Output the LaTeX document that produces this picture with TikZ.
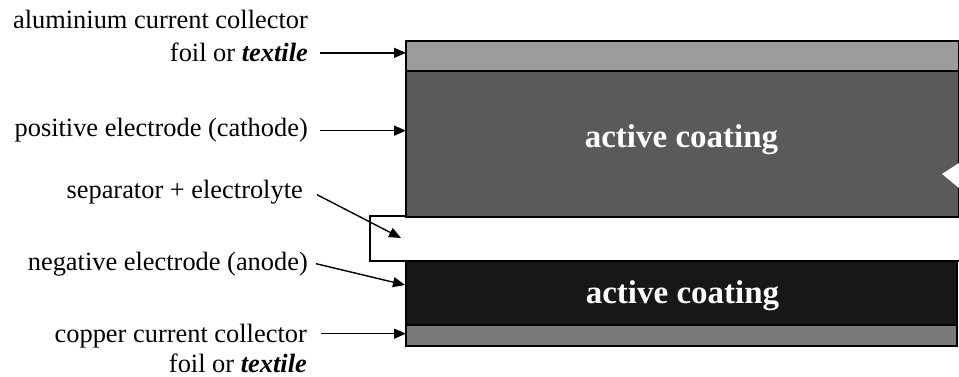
\documentclass[tikz,border=0pt]{standalone}
\usepackage{fontspec}
\setmainfont{Liberation Serif}
\usetikzlibrary{arrows.meta}
\definecolor{foilgrey}{HTML}{9C9C9C}
\definecolor{cathgrey}{HTML}{5A5A5A}
\definecolor{anodeblk}{HTML}{171717}
\definecolor{cugrey}{HTML}{7A7A7A}
\begin{document}
\begin{tikzpicture}[x=1pt,y=-1pt,
  layer/.style={draw=black,line width=1.2pt,inner sep=0pt,outer sep=0pt,anchor=north west},
  lbl/.style={inner sep=0pt,anchor=base east,font=\fontsize{26.4pt}{30pt}\selectfont},
  coat/.style={inner sep=0pt,anchor=base,text=white,font=\fontsize{33pt}{36pt}\selectfont\bfseries},
  arr/.style={line width=1.4pt,-{Triangle[length=12pt,width=10pt]}}]
\useasboundingbox (0,0) rectangle (959,377);
% layers
\node[layer,fill=white,minimum width=590pt,minimum height=45pt] (sep) at (370,216) {};
\node[layer,fill=foilgrey,minimum width=553pt,minimum height=30pt] (alfoil) at (406,41) {};
\node[layer,fill=cathgrey,minimum width=553pt,minimum height=146pt] (cath) at (406,71) {};
\node[layer,fill=anodeblk,minimum width=551pt,minimum height=64pt] (anode) at (406,261) {};
\node[layer,fill=cugrey,minimum width=551pt,minimum height=21pt] (cu) at (406,325) {};
\fill[white] (942,174) -- (959,163) -- (959,188) -- cycle;
% coating texts
\node[coat] (coat1) at (681.5,148) {active coating};
\node[coat] (coat2) at (682.5,303) {active coating};
% labels
\node[lbl] (al1) at (308,29) {aluminium current collector};
\node[lbl] (al2) at (308,62) {foil or \textit{\textbf{textile}}};
\node[lbl] (pos) at (308,137) {positive electrode (cathode)};
\node[lbl] (sepl) at (303,199) {separator + electrolyte};
\node[lbl] (neg) at (308,270) {negative electrode (anode)};
\node[lbl] (cu1) at (307,342) {copper current collector};
\node[lbl] (cu2) at (307,372) {foil or \textit{\textbf{textile}}};
% arrow targets
\coordinate (septip) at (401,238);
\coordinate (negtip) at (405,285);
% arrows
\draw[arr] ([xshift=12pt]al2.east) -- (al2.east -| alfoil.west);
\draw[arr] ([xshift=12pt]pos.east) -- (pos.east -| cath.west);
\draw[arr] ([xshift=14pt,yshift=-2pt]sepl.east) -- (septip);
\draw[arr] ([xshift=8pt]neg.east) -- (negtip);
\draw[arr] ([xshift=14pt,yshift=2pt]cu1.east) -- ([yshift=2pt]cu1.east -| cu.west);
\end{tikzpicture}
\end{document}
